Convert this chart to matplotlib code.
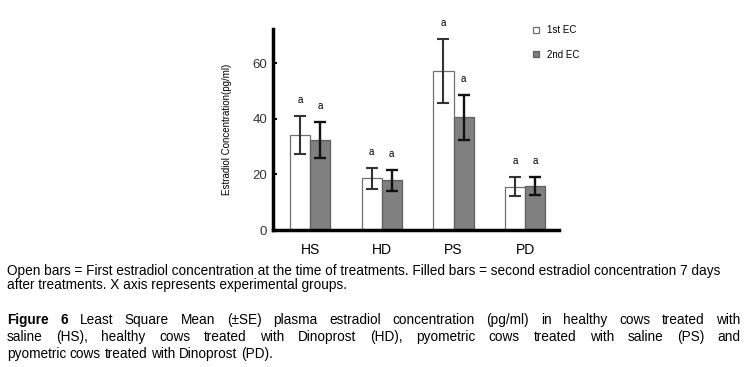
import numpy as np
import matplotlib
matplotlib.use("Agg")
import matplotlib.pyplot as plt

# data
groups = ["HS", "HD", "PS", "PD"]
first_ec = [34.2, 18.6, 57.1, 15.6]
first_se = [6.8, 3.8, 11.5, 3.3]
second_ec = [32.3, 17.9, 40.5, 15.8]
second_se = [6.5, 3.7, 8.1, 3.2]
first_sig = ["a", "a", "a", "a"]
second_sig = ["a", "a", "a", "a"]
yticks = [0, 20, 40, 60]

note_lines = [
    "Open bars = First estradiol concentration at the time of treatments. Filled bars = second estradiol concentration 7 days",
    "after treatments. X axis represents experimental groups.",
]
caption_lines = [
    "Figure 6 Least Square Mean (\u00b1SE) plasma estradiol concentration (pg/ml) in  healthy cows treated with",
    "saline (HS), healthy cows treated with Dinoprost (HD), pyometric cows treated with saline (PS) and",
    "pyometric cows treated with Dinoprost (PD).",
]

W, H = 747, 367
plt.rcParams['font.family'] = ['Liberation Sans', 'DejaVu Sans']

fig = plt.figure(figsize=(W / 100, H / 100), dpi=100)
ax = fig.add_axes([272.7 / W, 1 - 230 / H, (559 - 272.7) / W, (230 - 29) / H])

x = np.arange(len(groups))
bw = 0.28
ax.bar(x - bw / 2, first_ec, bw, yerr=first_se, color='white',
       edgecolor='#707070', linewidth=0.9, label='1st EC',
       error_kw=dict(ecolor='#333333', elinewidth=1.5, capsize=4.5, capthick=1.5))
ax.bar(x + bw / 2, second_ec, bw, yerr=second_se, color='#808080',
       edgecolor='#606060', linewidth=0.9, label='2nd EC',
       error_kw=dict(ecolor='#111111', elinewidth=1.7, capsize=4.5, capthick=1.7))

for i in range(len(groups)):
    ax.text(x[i] - bw / 2, first_ec[i] + first_se[i] + 5.8, first_sig[i],
            ha='center', va='center', fontsize=7, clip_on=False)
    ax.text(x[i] + bw / 2, second_ec[i] + second_se[i] + 5.8, second_sig[i],
            ha='center', va='center', fontsize=7, clip_on=False)

ax.set_xlim(-0.52, 3.47)
ax.set_ylim(0, 72.3)
ax.set_yticks(yticks)
ax.set_xticks(x)
ax.set_xticklabels(groups, fontsize=10)
ax.tick_params(axis='x', length=0, pad=9)
ax.tick_params(axis='y', direction='in', length=3, width=1.5, labelsize=9.5,
               labelcolor='#333333', pad=4)
for s in ['top', 'right']:
    ax.spines[s].set_visible(False)
for s in ['left', 'bottom']:
    ax.spines[s].set_linewidth(2.5)
ax.set_ylabel("Estradiol Concentration(pg/ml)", fontsize=7)
ax.yaxis.set_label_coords((231.7 - 272.7) / (559 - 272.7), 0.5)

# legend
leg = ax.legend(loc='upper left', bbox_to_anchor=((529.5 - 272.7) / (559 - 272.7), 1.038),
                frameon=False, fontsize=7, handlelength=0.6, handleheight=0.6,
                labelspacing=1.5, handletextpad=0.8, borderaxespad=0)

# captions
fig.canvas.draw()
renderer = fig.canvas.get_renderer()


def px(xp, yp):
    return xp / W, 1 - yp / H


def width_of(s, **kw):
    t = fig.text(0, 0, s, **kw)
    w = t.get_window_extent(renderer).width
    t.remove()
    return w


base = width_of(note_lines[0], fontsize=10)
fs = 10 * (722.7 - 6.7) / base


def draw_words(words, x0, x1, y, justify):
    # words: list of (text, weight)
    widths = [width_of(w, fontsize=fs, fontweight=wt) for w, wt in words]
    if justify and len(words) > 1:
        gap = (x1 - x0 - sum(widths)) / (len(words) - 1)
    else:
        gap = width_of("a b", fontsize=fs) - width_of("ab", fontsize=fs)
    xp = x0
    for (w, wt), wd in zip(words, widths):
        fig.text(*px(xp, y), w, fontsize=fs, fontweight=wt, ha='left', va='center')
        xp += wd + gap


for yy, line in zip([270.7, 284.7], note_lines):
    fig.text(*px(6.7, yy), line, fontsize=fs, ha='left', va='center')

cap_y = [320.3, 337.0, 354.0]
for j, line in enumerate(caption_lines):
    words = []
    for k, w in enumerate(line.split()):
        bold = j == 0 and k < 2
        words.append((w, 'bold' if bold else 'normal'))
    draw_words(words, 6.7, 740.7, cap_y[j], justify=(j < 2))

fig.savefig("out.png", dpi=100)
